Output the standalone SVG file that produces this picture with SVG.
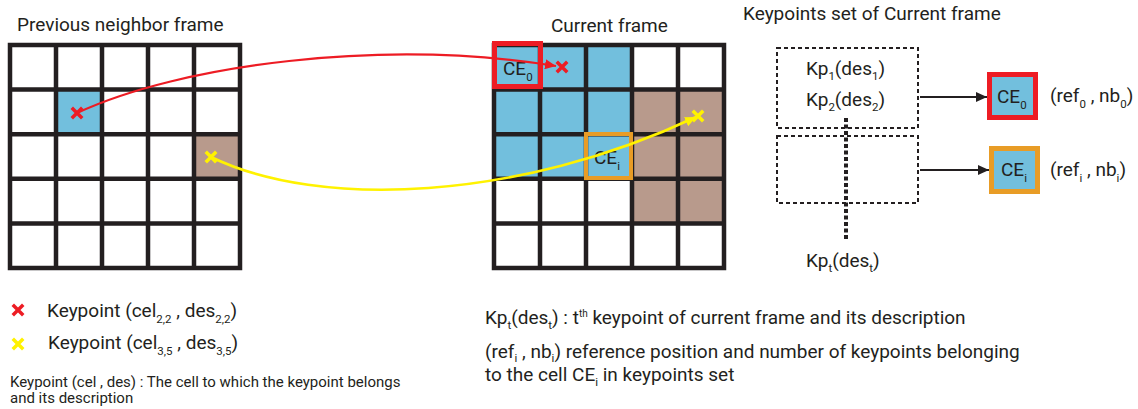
<svg xmlns="http://www.w3.org/2000/svg" width="1138" height="409" viewBox="0 0 1138 409">
<style>
text{font-family:Roboto,"Liberation Sans",sans-serif;fill:#231f20}
.grid{fill:none;stroke:#231f20;stroke-width:4.5}
.blue{fill:#72bfdd}
.brown{fill:#b89a8c}
.dash{fill:none;stroke:#231f20;stroke-width:2;stroke-dasharray:4 3}
.t19{font-size:19px}
.sub{font-size:11.5px}
</style>
<defs>
<marker id="ah-red" markerUnits="userSpaceOnUse" markerWidth="12" markerHeight="10" refX="11" refY="5" orient="auto"><path d="M0,0 L11,5 L0,10 Z" fill="#ed1c24"/></marker>
<marker id="ah-yel" markerUnits="userSpaceOnUse" markerWidth="12" markerHeight="10" refX="11" refY="5" orient="auto"><path d="M0,0 L11,5 L0,10 Z" fill="#fff200"/></marker>
<marker id="ah-blk" markerUnits="userSpaceOnUse" markerWidth="12" markerHeight="10" refX="11" refY="5" orient="auto"><path d="M0,0 L11,5 L0,10 Z" fill="#231f20"/></marker>
<path id="xmark" d="M-4,-4 L4,4 M4,-4 L-4,4" stroke-width="3.5" stroke-linecap="square"/>
</defs>

<g id="title-prev"><text class="t19" x="17" y="31">Previous neighbor frame</text></g>
<g id="title-current"><text class="t19" x="551" y="32">Current frame</text></g>
<g id="title-kpset"><text class="t19" x="743" y="20">Keypoints set of Current frame</text></g>

<g id="prev-grid">
<rect class="blue" x="56" y="89.6" width="46" height="44.6"/>
<rect class="brown" x="194" y="134.2" width="46" height="44.6"/>
<path class="grid" d="M10,45 H240 V268 H10 Z M56,45 V268 M102,45 V268 M148,45 V268 M194,45 V268 M10,89.6 H240 M10,134.2 H240 M10,178.8 H240 M10,223.4 H240"/>
<use href="#xmark" x="77" y="113" stroke="#ed1c24"/>
<use href="#xmark" x="211" y="157" stroke="#fff200"/>
</g>

<g id="current-grid">
<rect class="blue" x="494" y="45" width="138" height="133.8"/>
<rect class="brown" x="632" y="89.6" width="92" height="133.8"/>
<path class="grid" d="M494,45 H724 V268 H494 Z M540,45 V268 M586,45 V268 M632,45 V268 M678,45 V268 M494,89.6 H724 M494,134.2 H724 M494,178.8 H724 M494,223.4 H724"/>
<use href="#xmark" x="562" y="67" stroke="#ed1c24"/>
<use href="#xmark" x="698" y="116" stroke="#fff200"/>
</g>

<g id="ce0-cell">
<rect x="494.5" y="43.5" width="46" height="43" fill="none" stroke="#ed1c24" stroke-width="5"/>
<text class="t19" x="503" y="75">CE<tspan class="sub" dy="6">0</tspan></text>
</g>
<g id="cei-cell">
<rect x="586" y="134" width="45" height="44" fill="none" stroke="#e89c26" stroke-width="4"/>
<text class="t19" x="594" y="164">CE<tspan class="sub" dy="6">i</tspan></text>
</g>

<g id="kp-box1">
<rect class="dash" x="777" y="48" width="141" height="80"/>
<text class="t19" x="806" y="75">Kp<tspan class="sub" dy="5">1</tspan><tspan dy="-5">(des</tspan><tspan class="sub" dy="5">1</tspan><tspan dy="-5">)</tspan></text>
<text class="t19" x="806" y="106">Kp<tspan class="sub" dy="5">2</tspan><tspan dy="-5">(des</tspan><tspan class="sub" dy="5">2</tspan><tspan dy="-5">)</tspan></text>
</g>
<g id="kp-box2">
<rect class="dash" x="777" y="136" width="141" height="67"/>
</g>
<g id="kp-t">
<text class="t19" x="806" y="267">Kp<tspan class="sub" dy="5">t</tspan><tspan dy="-5">(des</tspan><tspan class="sub" dy="5">t</tspan><tspan dy="-5">)</tspan></text>
</g>

<g id="ce0-node">
<rect x="989.5" y="74.5" width="46" height="43" fill="#72bfdd" stroke="#ed1c24" stroke-width="5"/>
<text class="t19" x="997" y="103">CE<tspan class="sub" dy="6">0</tspan></text>
<text class="t19" x="1050" y="102">(ref<tspan class="sub" dy="6">0</tspan><tspan dy="-6"> , nb</tspan><tspan class="sub" dy="6">0</tspan><tspan dy="-6">)</tspan></text>
</g>
<g id="cei-node">
<rect x="991.5" y="148.5" width="46" height="43" fill="#72bfdd" stroke="#e89c26" stroke-width="5"/>
<text class="t19" x="1001" y="176">CE<tspan class="sub" dy="6">i</tspan></text>
<text class="t19" x="1050" y="176">(ref<tspan class="sub" dy="6">i</tspan><tspan dy="-6"> , nb</tspan><tspan class="sub" dy="6">i</tspan><tspan dy="-6">)</tspan></text>
</g>

<g id="connectors">
<path d="M77,113 C180,65 380,38 556,66" fill="none" stroke="#ed1c24" stroke-width="2.2" marker-end="url(#ah-red)"/>
<path d="M211,157 C320,210 520,200 696,117" fill="none" stroke="#fff200" stroke-width="2.6" marker-end="url(#ah-yel)"/>
<path d="M920,97 H987" fill="none" stroke="#231f20" stroke-width="2" marker-end="url(#ah-blk)"/>
<path d="M920,170 H989" fill="none" stroke="#231f20" stroke-width="2" marker-end="url(#ah-blk)"/>
<path d="M846,118 V240" fill="none" stroke="#231f20" stroke-width="4" stroke-dasharray="4 2.5"/>
</g>

<g id="legend">
<use href="#xmark" x="18" y="310" stroke="#ed1c24"/>
<text class="t19" x="47" y="317">Keypoint (cel<tspan class="sub" dy="6">2,2</tspan><tspan dy="-6"> , des</tspan><tspan class="sub" dy="6">2,2</tspan><tspan dy="-6">)</tspan></text>
<use href="#xmark" x="18" y="344" stroke="#fff200"/>
<text class="t19" x="48" y="349">Keypoint (cel<tspan class="sub" dy="6">3,5</tspan><tspan dy="-6"> , des</tspan><tspan class="sub" dy="6">3,5</tspan><tspan dy="-6">)</tspan></text>
<text x="10" y="387" font-size="15">Keypoint (cel , des) : The cell to which the keypoint belongs</text>
<text x="10" y="403" font-size="15">and its description</text>
</g>

<g id="notes">
<text class="t19" x="485" y="324">Kp<tspan class="sub" dy="5">t</tspan><tspan dy="-5">(des</tspan><tspan class="sub" dy="5">t</tspan><tspan dy="-5">) : t</tspan><tspan font-size="10" dy="-7">th</tspan><tspan dy="7">  keypoint of current frame and its description</tspan></text>
<text class="t19" x="485" y="358">(ref<tspan class="sub" dy="4">i</tspan><tspan dy="-4"> , nb</tspan><tspan class="sub" dy="4">i</tspan><tspan dy="-4">) reference position and number of keypoints belonging</tspan></text>
<text class="t19" x="485" y="381">to the cell CE<tspan class="sub" dy="5">i</tspan><tspan dy="-5"> in keypoints set</tspan></text>
</g>
</svg>
